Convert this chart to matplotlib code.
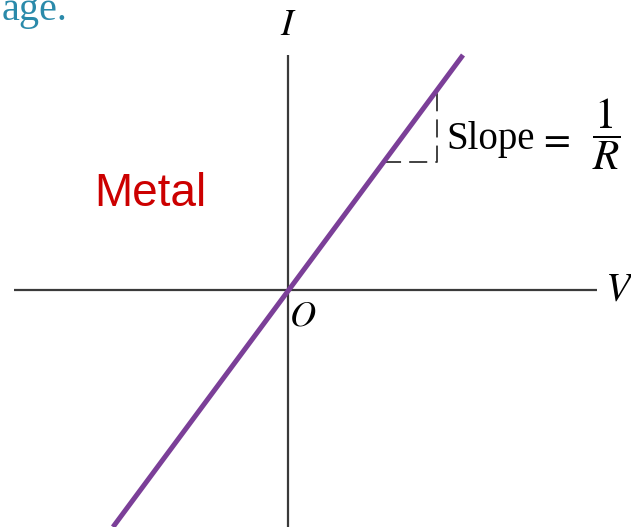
import matplotlib
matplotlib.use("Agg")
from matplotlib import pyplot as plt

# axis extents (pixel-like units, origin at O)
v_axis = [-274, 309]
i_axis = [-237, 235]

# the I-V line of an ohmic conductor
line_v = [-175, 175]
line_i = [-237, 235]

# dashed slope triangle
tri_v = [95, 149, 149]
tri_i = [128, 128, 201]

plt.rcParams["mathtext.fontset"] = "stix"
serif = "Liberation Serif"

fig = plt.figure(figsize=(6.31, 5.27), dpi=100)
ax = fig.add_axes([0, 0, 1, 1])
ax.set_xlim(-288, 343)
ax.set_ylim(-237, 290)
ax.axis("off")

ax.plot(v_axis, [0, 0], color="#3a3a3a", lw=1.6, solid_capstyle="butt")
ax.plot([0, 0], i_axis, color="#3a3a3a", lw=1.6, solid_capstyle="butt")
ax.plot(tri_v, tri_i, color="#333333", lw=1.3, ls=(0, (10, 4.5)))
ax.plot(line_v, line_i, color="#7b3f98", lw=3.6, solid_capstyle="butt")

ax.text(0, 265, "$I$", fontsize=27, ha="center", va="center")
ax.text(332, 0, "$V$", fontsize=29, ha="center", va="center")
ax.text(15, -26, "$O$", fontsize=26, ha="center", va="center")
ax.text(158, 150, "Slope", family=serif, fontsize=28, ha="left", va="center")
ax.text(266, 151, r"$=$", fontsize=28, ha="center", va="center")
ax.text(318, 156, r"$\dfrac{1}{R}$", fontsize=31, ha="center", va="center")
ax.text(-138, 96, "Metal", family="Liberation Sans", fontsize=33,
        color="#cc0000", ha="center", va="center")
ax.text(-286, 270, "age.", family=serif, fontsize=29, color="#2a8aaa",
        ha="left", va="baseline")

fig.savefig("out.png", dpi=100)
